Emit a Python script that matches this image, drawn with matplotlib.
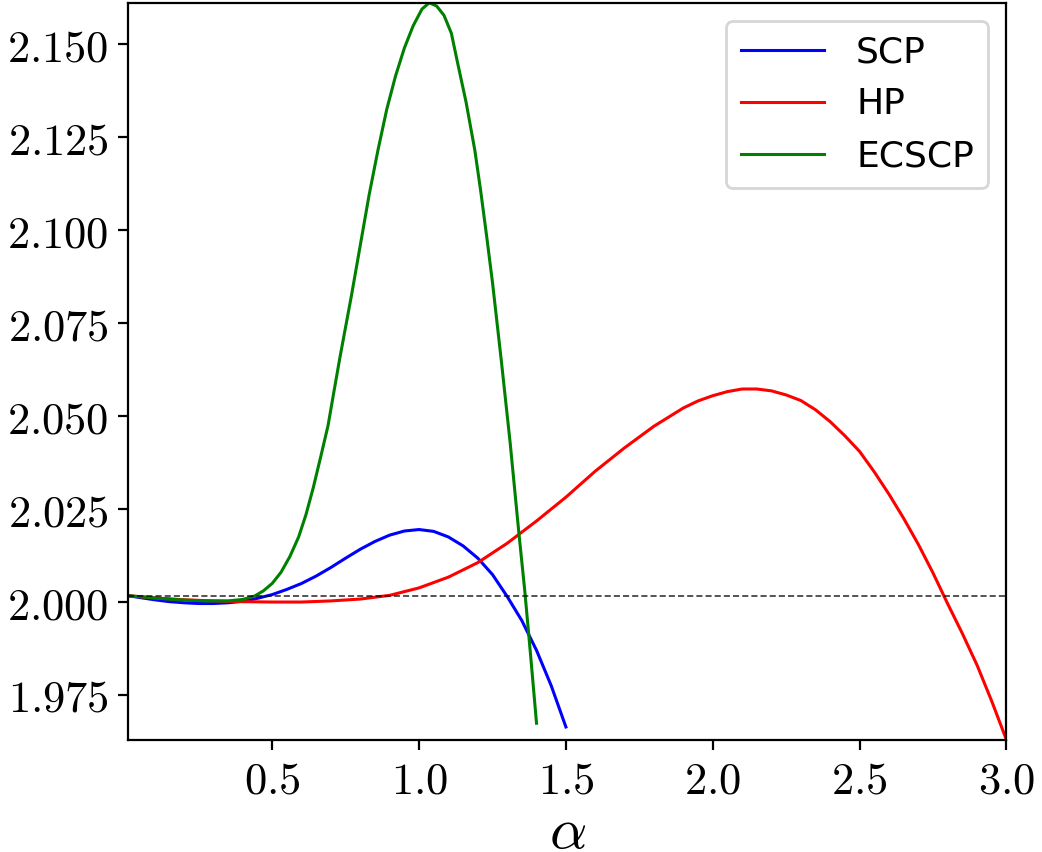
import matplotlib
matplotlib.use("Agg")
import matplotlib.pyplot as plt
from matplotlib.ticker import FuncFormatter, MultipleLocator

plt.rcParams["mathtext.fontset"] = "cm"

# SCP
alpha_scp = [0.01, 0.05, 0.10, 0.15, 0.20, 0.25, 0.30, 0.35, 0.40, 0.45,
             0.50, 0.55, 0.60, 0.65, 0.70, 0.75, 0.80, 0.85, 0.90, 0.95,
             1.00, 1.05, 1.10, 1.15, 1.20, 1.25, 1.30, 1.35, 1.40, 1.45, 1.50]
val_scp = [2.0017, 2.0012, 2.0006, 2.0001, 1.9998, 1.9996, 1.9996, 1.9998,
           2.0002, 2.0010, 2.0020, 2.0034, 2.0050, 2.0070, 2.0093, 2.0118,
           2.0142, 2.0163, 2.0180, 2.0191, 2.0195, 2.0190, 2.0175, 2.0151,
           2.0118, 2.0074, 2.0015, 1.9950, 1.9870, 1.9775, 1.9664]

# HP
alpha_hp = [0.01, 0.10, 0.20, 0.30, 0.40, 0.50, 0.60, 0.70, 0.80, 0.90,
            1.00, 1.10, 1.20, 1.30, 1.40, 1.50, 1.60, 1.70, 1.80, 1.90,
            1.95, 2.00, 2.05, 2.10, 2.15, 2.20, 2.25, 2.30, 2.35, 2.40,
            2.45, 2.50, 2.55, 2.60, 2.65, 2.70, 2.75, 2.80, 2.85, 2.90,
            2.95, 3.00]
val_hp = [2.0017, 2.0011, 2.0006, 2.0003, 2.0001, 2.0000, 2.0000, 2.0003,
          2.0008, 2.0018, 2.0038, 2.0067, 2.0106, 2.0158, 2.0218, 2.0282,
          2.0352, 2.0415, 2.0473, 2.0522, 2.0541, 2.0555, 2.0566, 2.0573,
          2.0573, 2.0568, 2.0557, 2.0542, 2.0517, 2.0485, 2.0447, 2.0405,
          2.0350, 2.0290, 2.0225, 2.0155, 2.0078, 1.9995, 1.9915, 1.9830,
          1.9733, 1.9629]

# ECSCP
alpha_ec = [0.01, 0.10, 0.18, 0.27, 0.35, 0.40, 0.44, 0.47, 0.50, 0.53,
            0.56, 0.59, 0.615, 0.64, 0.665, 0.69, 0.71, 0.73, 0.75, 0.77,
            0.80, 0.83, 0.86, 0.89, 0.92, 0.95, 0.98, 1.01, 1.035, 1.06,
            1.085, 1.11, 1.13, 1.16, 1.19, 1.21, 1.23, 1.25, 1.28, 1.31,
            1.34, 1.36, 1.38, 1.40]
val_ec = [2.0017, 2.0011, 2.0006, 2.0003, 2.0003, 2.0007, 2.0016, 2.0030,
          2.0050, 2.0080, 2.0122, 2.0175, 2.0235, 2.0308, 2.0390, 2.0474,
          2.0565, 2.0655, 2.0740, 2.0825, 2.0960, 2.1095, 2.1215, 2.1325,
          2.1415, 2.1490, 2.1550, 2.1595, 2.1612, 2.1603, 2.1578, 2.1530,
          2.1455, 2.1345, 2.1215, 2.1105, 2.0985, 2.0860, 2.0650, 2.0430,
          2.0185, 2.0030, 1.9855, 1.9674]

fig = plt.figure(figsize=(5.21, 4.26), dpi=200)
ax = fig.add_axes([0.1231, 0.1315, 0.8428, 0.8653])

ax.plot(alpha_scp, val_scp, color="blue", lw=1.1, label="SCP")
ax.plot(alpha_hp, val_hp, color="red", lw=1.1, label="HP")
ax.plot(alpha_ec, val_ec, color="green", lw=1.1, label="ECSCP")
ax.axhline(val_scp[0], color="k", lw=0.55, ls=(0, (4, 2)), alpha=0.85)

all_x = alpha_scp + alpha_hp + alpha_ec
all_y = val_scp + val_hp + val_ec
ax.set_xlim(min(all_x), max(all_x))
ax.set_ylim(min(all_y), max(all_y))

ax.xaxis.set_major_locator(MultipleLocator(0.5))
ax.yaxis.set_major_locator(MultipleLocator(0.025))
ax.xaxis.set_major_formatter(FuncFormatter(lambda v, _: f"${v:.1f}$"))
ax.yaxis.set_major_formatter(FuncFormatter(lambda v, _: f"${v:.3f}$"))
ax.tick_params(labelsize=16)
ax.set_xlabel(r"$\alpha$", fontsize=21, va="center")
ax.xaxis.set_label_coords(0.5, -0.124)

ax.legend(loc="upper right", fontsize=13, handlelength=2.3, handletextpad=0.9)

fig.savefig("out.png", dpi=200)
